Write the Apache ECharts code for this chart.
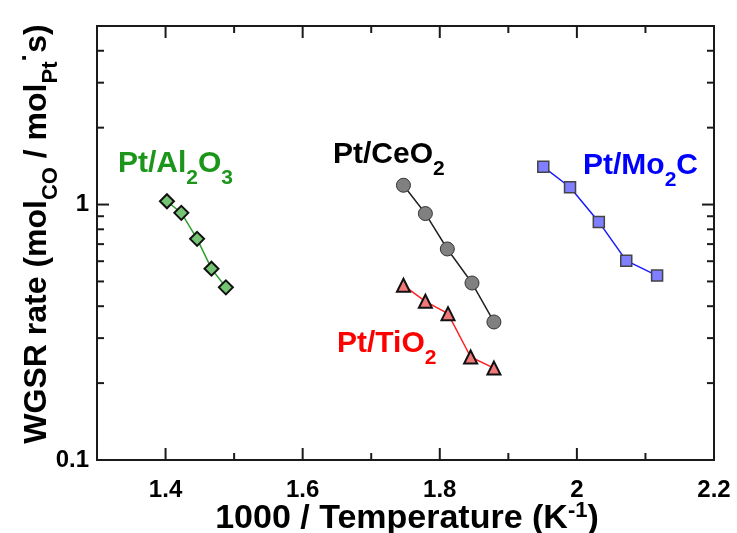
<!DOCTYPE html>
<html><head><meta charset="utf-8">
<script src="https://cdn.jsdelivr.net/npm/echarts@6/dist/echarts.min.js"></script>
<style>html,body{margin:0;padding:0;background:#fff}#c{width:737px;height:533px}</style>
</head><body><div id="c"></div>
<script>
// ---- data ----
const xAl = [1.402, 1.423, 1.446, 1.467, 1.488];
const yAl = [1.03, 0.928, 0.734, 0.561, 0.474];
const xCe = [1.747, 1.779, 1.811, 1.847, 1.879];
const yCe = [1.19, 0.922, 0.670, 0.493, 0.347];
const xTi = [1.747, 1.779, 1.812, 1.845, 1.879];
const yTi = [0.483, 0.418, 0.374, 0.253, 0.229];
const xMo = [1.951, 1.990, 2.032, 2.072, 2.117];
const yMo = [1.405, 1.169, 0.855, 0.603, 0.527];

const xTickLabels = ['1.4', '1.6', '1.8', '2', '2.2'];
const yTickLabels = ['0.1', '1'];
const xMajorTicks = [1.4, 1.6, 1.8, 2.0];
const xMinorTicks = [1.5, 1.7, 1.9, 2.1];
const yMajorTicks = [1];
const yMinorTicks = [0.2, 0.3, 0.4, 0.5, 0.6, 0.7, 0.8, 0.9, 2, 3, 4];

const FONT = '"Liberation Sans", Arial, Helvetica, sans-serif';
const pairs = (xs, ys) => xs.map((x, i) => [x, ys[i]]);

const tickData = [].concat(
  xMajorTicks.map(v => [v, 1, 0]),
  xMinorTicks.map(v => [v, 1, 1]),
  yMajorTicks.map(v => [1.5, v, 2]),
  yMinorTicks.map(v => [1.5, v, 3])
);

function lbl(text, color, x, y) {
  return {
    type: 'text', x: x, y: y, z: 100,
    style: {
      text: text, fill: color, align: 'left', verticalAlign: 'middle',
      font: 'bold 30px ' + FONT,
      rich: {
        m: {fontSize: 30, fontWeight: 'bold', fontFamily: FONT, fill: color, lineHeight: 49},
        s: {fontSize: 21, fontWeight: 'bold', fontFamily: FONT, fill: color, lineHeight: 21, verticalAlign: 'bottom'}
      }
    }
  };
}

const chart = echarts.init(document.getElementById('c'), null, {renderer: 'canvas'});
chart.setOption({
  animation: false,
  backgroundColor: '#fff',
  grid: {left: 97, right: 23, top: 26, bottom: 73, show: true, borderColor: '#1a1a1a', borderWidth: 2, backgroundColor: 'transparent'},
  xAxis: {
    type: 'value', min: 1.3, max: 2.2, interval: 0.1,
    axisLine: {show: false}, axisTick: {show: false}, splitLine: {show: false},
    axisLabel: {
      margin: 18, color: '#000', fontSize: 24, fontWeight: 'bold', fontFamily: FONT,
      formatter: v => { const s = String(+(+v).toFixed(2)); return xTickLabels.includes(s) ? s : ''; }
    }
  },
  yAxis: {
    type: 'log', logBase: 10, min: 0.1, max: 5,
    axisLine: {show: false}, axisTick: {show: false}, splitLine: {show: false}, minorTick: {show: false},
    axisLabel: {
      margin: 8, color: '#000', fontSize: 24, fontWeight: 'bold', fontFamily: FONT,
      showMaxLabel: false,
      formatter: v => { const s = String(+(+v).toPrecision(3)); return yTickLabels.includes(s) ? s : ''; }
    }
  },
  graphic: [
    {
      type: 'text', x: 37, y: 234, rotation: Math.PI / 2, z: 100,
      style: {
        text: '{m|WGSR rate (mol}{s|CO}{m| / mol}{s|Pt}{p|·}{m|s)}',
        align: 'center', verticalAlign: 'middle', fill: '#000',
        rich: {
          m: {fontSize: 32, fontWeight: 'bold', fontFamily: FONT, fill: '#000', lineHeight: 49},
          s: {fontSize: 22, fontWeight: 'bold', fontFamily: FONT, fill: '#000', lineHeight: 22, verticalAlign: 'bottom'},
          p: {fontSize: 26, fontWeight: 'bold', fontFamily: FONT, fill: '#000', lineHeight: 30, verticalAlign: 'top'}
        }
      }
    },
    {
      type: 'text', x: 407, y: 519, z: 100,
      style: {
        text: '{m|1000 / Temperature (K}{p|-1}{m|)}',
        align: 'center', verticalAlign: 'middle', fill: '#000',
        rich: {
          m: {fontSize: 34, fontWeight: 'bold', fontFamily: FONT, fill: '#000', lineHeight: 39},
          p: {fontSize: 22, fontWeight: 'bold', fontFamily: FONT, fill: '#000', lineHeight: 22, verticalAlign: 'top'}
        }
      }
    },
    lbl('{m|Pt/Al}{s|2}{m|O}{s|3}', '#1b961b', 118, 164),
    lbl('{m|Pt/CeO}{s|2}', '#000000', 333, 155),
    lbl('{m|Pt/Mo}{s|2}{m|C}', '#0000ff', 583, 166),
    lbl('{m|Pt/TiO}{s|2}', '#ff0000', 337, 344)
  ],
  series: [
    {
      type: 'custom', data: tickData, silent: true, z: 10, clip: false,
      renderItem: function (params, api) {
        const cs = params.coordSys;
        const kind = api.value(2);
        const len = (kind === 0 || kind === 2) ? 12 : 7;
        const style = {stroke: '#1a1a1a', lineWidth: 2};
        if (kind < 2) {
          const px = api.coord([api.value(0), 1])[0];
          const b = cs.y + cs.height, t = cs.y;
          return {type: 'group', children: [
            {type: 'line', shape: {x1: px, y1: b, x2: px, y2: b - len}, style: style},
            {type: 'line', shape: {x1: px, y1: t, x2: px, y2: t + len}, style: style}
          ]};
        } else {
          const py = api.coord([1.5, api.value(1)])[1];
          const l = cs.x, r = cs.x + cs.width;
          return {type: 'group', children: [
            {type: 'line', shape: {x1: l, y1: py, x2: l + len, y2: py}, style: style},
            {type: 'line', shape: {x1: r, y1: py, x2: r - len, y2: py}, style: style}
          ]};
        }
      }
    },
    {
      name: 'Pt/Al2O3', type: 'line', data: pairs(xAl, yAl), z: 20,
      lineStyle: {color: '#2ca02c', width: 1.5},
      symbol: 'diamond', symbolSize: 14,
      itemStyle: {color: '#74c474', borderColor: '#111', borderWidth: 2}
    },
    {
      name: 'Pt/CeO2', type: 'line', data: pairs(xCe, yCe), z: 20,
      lineStyle: {color: '#222', width: 1.5},
      symbol: 'circle', symbolSize: 14,
      itemStyle: {color: '#808080', borderColor: '#333', borderWidth: 1}
    },
    {
      name: 'Pt/TiO2', type: 'line', data: pairs(xTi, yTi), z: 20,
      lineStyle: {color: '#ff2020', width: 1.5},
      symbol: 'triangle', symbolSize: 13,
      itemStyle: {color: '#f07878', borderColor: '#111', borderWidth: 2}
    },
    {
      name: 'Pt/Mo2C', type: 'line', data: pairs(xMo, yMo), z: 20,
      lineStyle: {color: '#1a1aff', width: 1.5},
      symbol: 'rect', symbolSize: 11,
      itemStyle: {color: '#7f7fff', borderColor: '#444', borderWidth: 1.5}
    }
  ]
});
</script>
</body></html>
